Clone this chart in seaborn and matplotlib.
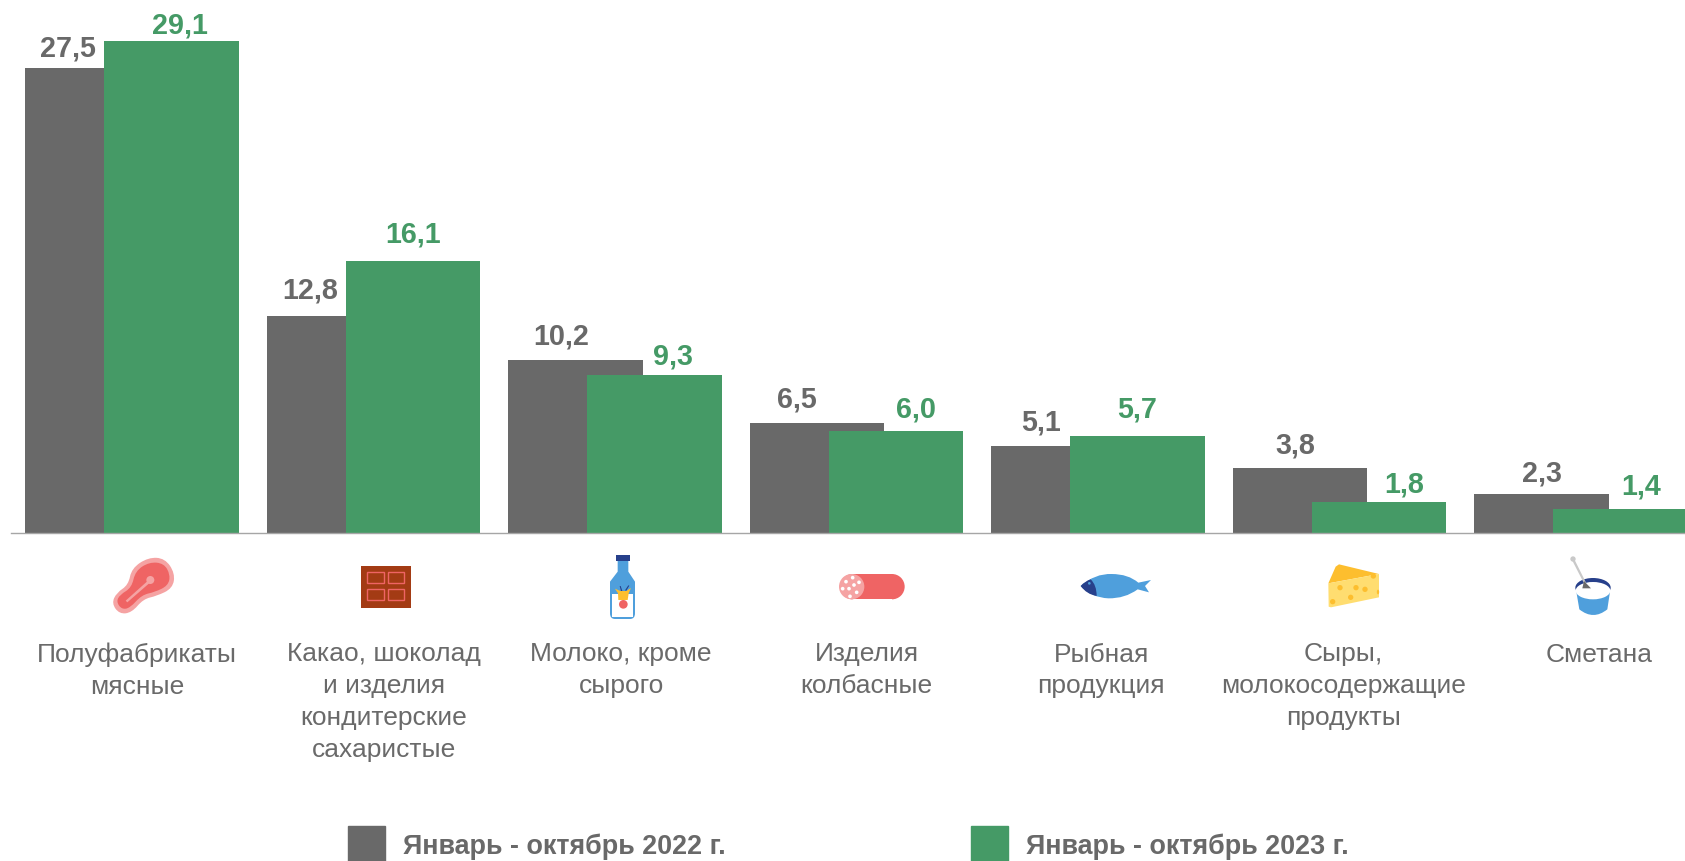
import matplotlib
matplotlib.use("Agg")
import matplotlib.pyplot as plt
import numpy as np
import seaborn as sns
from matplotlib.patches import Circle, Ellipse, Patch, PathPatch, Polygon, Rectangle
from matplotlib.path import Path
from matplotlib.transforms import Affine2D

categories = [
    "Полуфабрикаты\nмясные",
    "Какао, шоколад\nи изделия\nкондитерские\nсахаристые",
    "Молоко, кроме\nсырого",
    "Изделия\nколбасные",
    "Рыбная\nпродукция",
    "Сыры,\nмолокосодержащие\nпродукты",
    "Сметана",
]
values_2022 = [27.5, 12.8, 10.2, 6.5, 5.1, 3.8, 2.3]
values_2023 = [29.1, 16.1, 9.3, 6.0, 5.7, 1.8, 1.4]
series_names = ["Январь - октябрь 2022 г.", "Январь - октябрь 2023 г."]

GREY = "#696969"
GREEN = "#459A66"
RED = "#EF6464"
PINK = "#F5A3A3"
BLUE = "#4F9FDC"
NAVY = "#27408B"
YELLOW = "#FDBE2E"
CREAM = "#FFDD70"

W, H = 1685, 861
sns.set_theme(style="white")
plt.rcParams["font.family"] = ["Liberation Sans", "DejaVu Sans"]

fig = plt.figure(figsize=(W / 100, H / 100), dpi=100)
fig.patch.set_facecolor("white")
ax = fig.add_axes([11 / W, (H - 532.5) / H, (W - 11) / W, 532.5 / H])

# --- Bars, the two series overlap a bit ---
idx = np.arange(len(categories))
sns.barplot(x=idx - 0.1635, y=values_2022, native_scale=True, width=0.557,
            color=GREY, saturation=1, linewidth=0, ax=ax)
sns.barplot(x=idx + 0.1635, y=values_2023, native_scale=True, width=0.557,
            color=GREEN, saturation=1, linewidth=0, ax=ax)
ax.set_xlim(-0.501, 6.43)
ax.set_ylim(0, 532.5 / 16.89)
ax.set_xticks([])
ax.set_yticks([])
ax.set_xlabel("")
ax.set_ylabel("")
for side in ["top", "left", "right"]:
    ax.spines[side].set_visible(False)
ax.spines["bottom"].set_color("#A6A6A6")
ax.spines["bottom"].set_linewidth(1)

# --- Value labels, nudged by hand like in the original ---
dx_2022 = [-25, -24, -14, -20, -18, -5, 0]
dx_2023 = [8, 0, 18, 20, 0, 25, 20]
dy_2022 = [23, 29, 27, 26, 27, 26, 23]
dy_2023 = [19, 29, 22, 25, 30, 21, 25]
for i in idx:
    for v, off, dx, dy, c in [
        (values_2022[i], -0.1635, dx_2022[i], dy_2022[i], GREY),
        (values_2023[i], 0.1635, dx_2023[i], dy_2023[i], GREEN),
    ]:
        ax.annotate(f"{v:.1f}".replace(".", ","), xy=(i + off, v), xytext=(dx, dy),
                    textcoords="offset pixels", ha="center", va="center_baseline",
                    fontsize=20.7, fontweight="bold", color=c, annotation_clip=False)

# --- Category labels ---
label_dx = [5, 10.5, 6, 10, 3, 3.5, 17.5]
for i, name in enumerate(categories):
    ax.annotate(name, xy=(i, 0), xytext=(label_dx[i], -110), textcoords="offset pixels",
                ha="center", va="top", fontsize=19.0, color="#6A6A6A",
                linespacing=1.42, annotation_clip=False)

# --- Legend ---
handles = [Patch(color=GREY), Patch(color=GREEN)]
leg = fig.legend(handles, series_names, loc="lower left", bbox_to_anchor=(348 / W, -3 / H),
                 ncols=2, frameon=False, borderpad=0, borderaxespad=0,
                 handlelength=1.38, handleheight=1.8, handletextpad=0.66, columnspacing=9.1,
                 prop={"size": 19.4, "weight": "bold"}, labelcolor=GREY)

# --- Icons, drawn on an overlay in pixel coordinates ---
ov = fig.add_axes([0, 0, 1, 1], facecolor="none")
ov.set_xlim(0, W)
ov.set_ylim(H, 0)
ov.axis("off")


def blob(points):
    # closed smooth curve, the points are used as control points
    pts = np.array(points, dtype=float)
    mids = (pts + np.roll(pts, -1, axis=0)) / 2
    verts = [mids[-1]]
    codes = [Path.MOVETO]
    for p, m in zip(pts, mids):
        verts += [p, m]
        codes += [Path.CURVE3, Path.CURVE3]
    return Path(verts, codes)


def add(x0, y0, *patches):
    tr = Affine2D().scale(1 / 3).translate(x0, y0) + ov.transData
    for p in patches:
        p.set_transform(tr)
        ov.add_patch(p)


def shape(path, color):
    return PathPatch(path, facecolor=color, edgecolor="none")


# meat
add(100, 550,
    shape(blob([(145, 22), (195, 25), (225, 70), (218, 115), (170, 138), (130, 147), (95, 188),
                (58, 192), (35, 160), (50, 128), (85, 105), (95, 55)]), PINK),
    shape(blob([(148, 36), (192, 40), (211, 75), (204, 107), (165, 126), (125, 135), (90, 174),
                (65, 178), (49, 155), (60, 134), (95, 113), (106, 63)]), RED),
    Polygon([(77, 152), (145, 91), (151, 97), (82, 157)], facecolor=PINK, edgecolor="none"),
    Circle((151, 90), 12, facecolor=PINK, edgecolor="none"))

# chocolate
add(350, 550, Rectangle((33, 47), 150, 126, facecolor="#A33B14", edgecolor="none"))
for sx in [52, 113]:
    for sy in [67, 117]:
        add(350, 550, Rectangle((sx, sy), 49, 33, facecolor="none", edgecolor=RED, linewidth=1.0))

# milk bottle
add(585, 550,
    shape(Path([(98, 30), (130, 30), (130, 65), (150, 95), (150, 190), (150, 207), (135, 207),
                (90, 207), (75, 207), (75, 190), (75, 95), (98, 65), (98, 30)],
               [Path.MOVETO, Path.LINETO, Path.LINETO, Path.LINETO, Path.LINETO, Path.CURVE3,
                Path.CURVE3, Path.LINETO, Path.CURVE3, Path.CURVE3, Path.LINETO, Path.LINETO,
                Path.CLOSEPOLY]), BLUE),
    Rectangle((81, 132), 63, 68, facecolor="white", edgecolor="none"),
    Rectangle((93, 14), 42, 19, facecolor=NAVY, edgecolor="none"),
    Polygon([(90, 116), (106, 123), (124, 123), (138, 114), (131, 130), (128, 150), (100, 150),
             (99, 130)], facecolor=YELLOW, edgecolor="none"),
    Polygon([(104, 108), (107, 108), (112, 123), (108, 123)], facecolor=NAVY, edgecolor="none"),
    Polygon([(130, 106), (133, 107), (124, 122), (120, 121)], facecolor=NAVY, edgecolor="none"),
    Circle((115, 163), 13, facecolor=RED, edgecolor="none"))

# sausage
add(830, 550,
    shape(Path.arc(90, 270).transformed(Affine2D().scale(38).translate(68, 110)), RED),
    shape(Path.arc(-90, 90).transformed(Affine2D().scale(38).translate(186, 110)), RED),
    Rectangle((68, 72), 118, 76, facecolor=RED, edgecolor="none"),
    Ellipse((65, 110), 76, 76, facecolor=PINK, edgecolor="none"))
for dot in [(48, 95), (68, 83), (87, 97), (72, 105), (38, 116), (57, 116), (80, 127), (60, 139)]:
    add(830, 550, Circle(dot, 5.5, facecolor="white", edgecolor="none"))

# fish
add(1075, 550,
    shape(Path([(17, 108), (60, 70), (110, 72), (160, 72), (190, 98), (228, 90), (210, 108),
                (222, 127), (188, 118), (150, 146), (100, 145), (50, 143), (17, 108)],
               [Path.MOVETO, Path.CURVE3, Path.CURVE3, Path.CURVE3, Path.CURVE3, Path.LINETO,
                Path.LINETO, Path.LINETO, Path.LINETO, Path.CURVE3, Path.CURVE3, Path.CURVE3,
                Path.CURVE3]), BLUE),
    shape(Path([(17, 108), (30, 93), (47, 88), (65, 105), (65, 138), (35, 133), (17, 108)],
               [Path.MOVETO, Path.CURVE3, Path.CURVE3, Path.CURVE3, Path.CURVE3, Path.CURVE3,
                Path.CURVE3]), NAVY),
    Circle((43, 100), 4, facecolor=BLUE, edgecolor="none"))

# cheese
add(1315, 550,
    Polygon([(40, 100), (62, 50), (72, 43), (192, 72)], facecolor=YELLOW, edgecolor="none"),
    Polygon([(40, 100), (192, 72), (192, 142), (48, 172), (41, 170)], facecolor=CREAM,
            edgecolor="none"))
for hole in [(75, 113), (123, 113), (150, 118), (107, 142), (53, 155), (175, 78)]:
    add(1315, 550, Circle(hole, 8, facecolor=YELLOW, edgecolor="none"))
add(1315, 550, Ellipse((189, 126), 7, 14, facecolor=YELLOW, edgecolor="none"))

# sour cream
add(1535, 550,
    shape(Path([(124, 125), (225, 125), (217, 178), (175, 212), (133, 178), (124, 125)],
               [Path.MOVETO, Path.LINETO, Path.LINETO, Path.CURVE3, Path.CURVE3, Path.LINETO]), BLUE),
    Ellipse((174, 113), 106, 58, facecolor=NAVY, edgecolor="none"),
    Ellipse((174, 122), 104, 52, facecolor="white", edgecolor="none"),
    Polygon([(111, 30), (117, 26), (153, 98), (147, 100)], facecolor="#C9C9C9", edgecolor="none"),
    Circle((114, 27), 8, facecolor="#C9C9C9", edgecolor="none"),
    Polygon([(147, 93), (168, 115), (142, 115)], facecolor=GREY, edgecolor="none"))

fig.savefig("out.png", dpi=100)
